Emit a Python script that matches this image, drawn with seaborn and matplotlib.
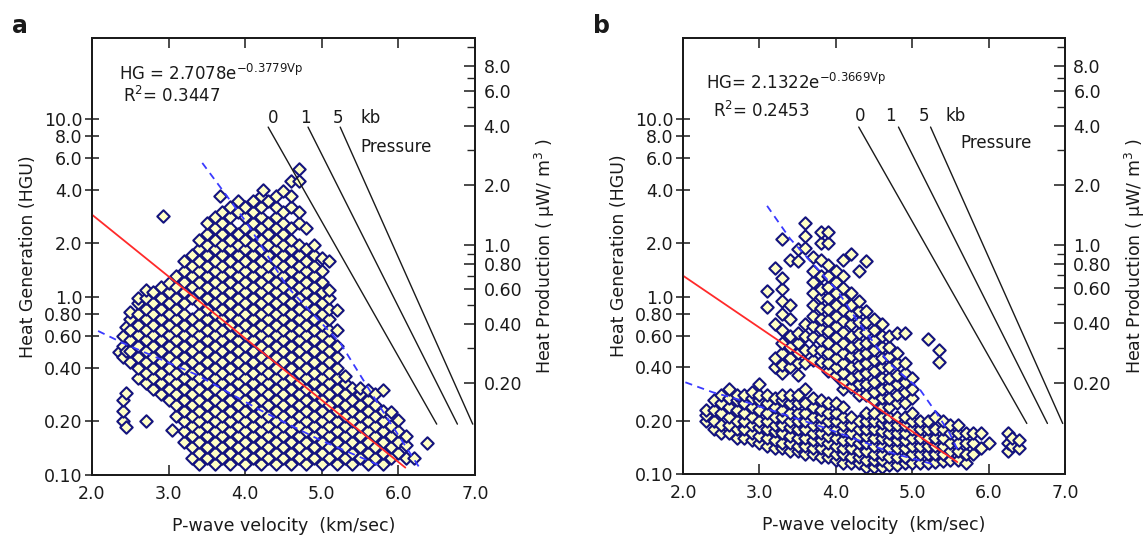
import pandas as pd
import numpy as np
import matplotlib
matplotlib.use("Agg")
import matplotlib.pyplot as plt
import seaborn as sns
from matplotlib.ticker import FixedLocator, NullLocator, NullFormatter

# ---- panel a : samples, grouped by P-wave velocity column ----
vp_a = [2.35, 2.40, 2.45, 2.50, 2.60, 2.70, 2.80, 2.90, 2.93, 3.00, 3.05, 3.10, 3.20, 3.30,
        3.40, 3.50, 3.60, 3.67, 3.70, 3.80, 3.90, 4.00, 4.10, 4.20, 4.23, 4.30, 4.40, 4.50,
        4.60, 4.70, 4.80, 4.90, 5.00, 5.10, 5.20, 5.30, 5.40, 5.50, 5.60, 5.70, 5.80, 5.90,
        6.00, 6.10, 6.20, 6.37]
hg_a = [
    [0.49],
    [0.2, 0.23, 0.265, 0.46, 0.53, 0.6],
    [0.185, 0.29, 0.5, 0.68],
    [0.43, 0.495, 0.57, 0.655, 0.75, 0.82],
    [0.35, 0.4, 0.46, 0.53, 0.61, 0.7, 0.8, 0.92, 0.99],
    [0.2, 0.327, 0.375, 0.43, 0.495, 0.57, 0.655, 0.75, 0.86, 0.99, 1.09],
    [0.305, 0.35, 0.4, 0.46, 0.53, 0.61, 0.7, 0.8, 0.92, 1.06],
    [0.285, 0.327, 0.375, 0.43, 0.495, 0.57, 0.655, 0.75, 0.86, 0.99, 1.14],
    [2.85],
    [0.265, 0.305, 0.35, 0.4, 0.46, 0.53, 0.61, 0.7, 0.8, 0.92, 1.06, 1.2],
    [0.18],
    [0.215, 0.247, 0.285, 0.327, 0.375, 0.43, 0.495, 0.57, 0.655, 0.75, 0.86, 0.99, 1.14, 1.31],
    [0.153, 0.176, 0.2, 0.23, 0.265, 0.305, 0.35, 0.4, 0.46, 0.53, 0.61, 0.7, 0.8, 0.92, 1.06,
     1.22, 1.4, 1.6],
    [0.124, 0.143, 0.165, 0.188, 0.215, 0.247, 0.285, 0.327, 0.375, 0.43, 0.495, 0.57, 0.655,
     0.75, 0.99, 1.14, 1.31, 1.5, 1.72],
    [0.115, 0.133, 0.153, 0.176, 0.2, 0.23, 0.265, 0.305, 0.35, 0.4, 0.46, 0.53, 0.61, 0.7, 0.8,
     0.92, 1.06, 1.22, 1.4, 1.6, 1.85, 2.1],
    [0.124, 0.143, 0.165, 0.188, 0.215, 0.247, 0.285, 0.327, 0.375, 0.43, 0.495, 0.57, 0.655,
     0.75, 0.86, 0.99, 1.14, 1.31, 1.5, 1.72, 1.97, 2.27, 2.6],
    [0.115, 0.133, 0.153, 0.176, 0.2, 0.23, 0.265, 0.305, 0.35, 0.4, 0.46, 0.53, 0.61, 0.7, 0.8,
     0.92, 1.06, 1.22, 1.4, 1.6, 1.85, 2.1, 2.45, 2.8],
    [3.7],
    [0.124, 0.143, 0.165, 0.188, 0.215, 0.247, 0.285, 0.327, 0.375, 0.43, 0.495, 0.57, 0.655,
     0.75, 0.86, 0.99, 1.14, 1.31, 1.5, 1.72, 1.97, 2.27, 2.6, 3.0],
    [0.115, 0.133, 0.153, 0.176, 0.2, 0.23, 0.265, 0.305, 0.35, 0.4, 0.46, 0.53, 0.61, 0.7, 0.8,
     0.92, 1.06, 1.22, 1.4, 1.6, 1.85, 2.1, 2.45, 2.8, 3.2],
    [0.124, 0.143, 0.165, 0.188, 0.215, 0.247, 0.285, 0.327, 0.375, 0.43, 0.495, 0.57, 0.655,
     0.75, 0.86, 0.99, 1.14, 1.31, 1.5, 1.72, 1.97, 2.27, 3.0, 3.45],
    [0.115, 0.133, 0.153, 0.176, 0.2, 0.23, 0.265, 0.305, 0.35, 0.4, 0.46, 0.53, 0.61, 0.7, 0.8,
     0.92, 1.06, 1.22, 1.4, 1.6, 1.85, 2.1, 2.45, 2.8, 3.2],
    [0.124, 0.143, 0.165, 0.188, 0.215, 0.247, 0.285, 0.327, 0.375, 0.43, 0.495, 0.57, 0.655,
     0.75, 0.86, 0.99, 1.14, 1.31, 1.5, 1.72, 1.97, 2.27, 2.6, 3.0, 3.45],
    [0.115, 0.133, 0.153, 0.176, 0.2, 0.23, 0.265, 0.305, 0.35, 0.4, 0.46, 0.53, 0.61, 0.7, 0.8,
     0.92, 1.06, 1.22, 1.4, 1.6, 1.85, 2.1, 2.45, 2.8, 3.2, 3.7],
    [4.0],
    [0.124, 0.143, 0.165, 0.188, 0.215, 0.247, 0.285, 0.327, 0.375, 0.43, 0.495, 0.57, 0.655,
     0.75, 0.86, 0.99, 1.14, 1.31, 1.5, 1.72, 1.97, 2.27, 2.6, 3.45],
    [0.115, 0.133, 0.153, 0.176, 0.2, 0.23, 0.265, 0.305, 0.35, 0.4, 0.46, 0.53, 0.61, 0.7, 0.8,
     0.92, 1.06, 1.22, 1.4, 1.6, 1.85, 2.1, 2.45, 2.8, 3.2, 3.7],
    [0.124, 0.143, 0.165, 0.188, 0.215, 0.247, 0.285, 0.327, 0.375, 0.43, 0.495, 0.57, 0.655,
     0.75, 0.86, 0.99, 1.14, 1.31, 1.5, 1.72, 1.97, 2.27, 2.6, 3.0, 3.95],
    [0.115, 0.133, 0.153, 0.176, 0.2, 0.23, 0.265, 0.305, 0.35, 0.4, 0.46, 0.53, 0.61, 0.7, 0.8,
     0.92, 1.06, 1.22, 1.4, 1.6, 1.85, 2.1, 2.45, 3.2, 3.7, 4.5],
    [0.124, 0.143, 0.165, 0.188, 0.215, 0.247, 0.285, 0.327, 0.375, 0.43, 0.495, 0.57, 0.655,
     0.75, 0.86, 0.99, 1.14, 1.31, 1.5, 1.72, 1.97, 2.6, 3.0, 4.5, 5.2],
    [0.115, 0.133, 0.153, 0.176, 0.2, 0.23, 0.265, 0.305, 0.35, 0.4, 0.46, 0.53, 0.61, 0.7, 0.8,
     0.92, 1.06, 1.22, 1.4, 1.6, 1.85, 2.45],
    [0.124, 0.143, 0.165, 0.188, 0.215, 0.247, 0.285, 0.327, 0.375, 0.43, 0.495, 0.57, 0.655,
     0.75, 0.86, 0.99, 1.14, 1.31, 1.5, 1.72, 1.97],
    [0.115, 0.133, 0.153, 0.176, 0.2, 0.23, 0.265, 0.305, 0.35, 0.4, 0.46, 0.53, 0.61, 0.7, 0.8,
     0.92, 1.06, 1.22, 1.4, 1.65],
    [0.124, 0.143, 0.165, 0.188, 0.215, 0.247, 0.285, 0.327, 0.375, 0.43, 0.495, 0.57, 0.655,
     0.75, 0.86, 0.99, 1.09, 1.6],
    [0.115, 0.133, 0.153, 0.176, 0.2, 0.23, 0.265, 0.305, 0.35, 0.4, 0.46, 0.53, 0.65, 0.84],
    [0.124, 0.143, 0.165, 0.188, 0.215, 0.247, 0.285, 0.327, 0.36],
    [0.115, 0.133, 0.153, 0.176, 0.2, 0.23, 0.265, 0.31],
    [0.124, 0.143, 0.165, 0.188, 0.215, 0.247, 0.285, 0.31],
    [0.115, 0.133, 0.153, 0.176, 0.2, 0.23, 0.265, 0.3],
    [0.124, 0.143, 0.165, 0.188, 0.215, 0.247, 0.285],
    [0.115, 0.133, 0.153, 0.176, 0.2, 0.23, 0.3],
    [0.124, 0.143, 0.165, 0.188, 0.226],
    [0.133, 0.153, 0.176, 0.204],
    [0.124, 0.148, 0.165],
    [0.125],
    [0.151],
]

# ---- panel b ----
vp_b = [2.30, 2.40, 2.50, 2.60, 2.70, 2.80, 2.90, 3.00, 3.10, 3.20, 3.30, 3.40, 3.50, 3.60,
        3.70, 3.80, 3.90, 4.00, 4.10, 4.20, 4.30, 4.40, 4.50, 4.60, 4.70, 4.80, 4.90, 5.00,
        5.10, 5.20, 5.30, 5.35, 5.40, 5.50, 5.60, 5.70, 5.80, 5.90, 6.00, 6.25, 6.30, 6.40]
hg_b = [
    [0.2, 0.215, 0.23],
    [0.18, 0.2, 0.23, 0.26],
    [0.17, 0.19, 0.22, 0.25, 0.28],
    [0.17, 0.19, 0.21, 0.24, 0.27, 0.3],
    [0.16, 0.18, 0.2, 0.23, 0.26, 0.28],
    [0.16, 0.18, 0.2, 0.22, 0.25, 0.28],
    [0.155, 0.17, 0.19, 0.21, 0.24, 0.27, 0.29],
    [0.15, 0.165, 0.185, 0.2, 0.23, 0.26, 0.28, 0.32],
    [0.145, 0.16, 0.18, 0.2, 0.22, 0.25, 0.28, 0.87, 1.08],
    [0.14, 0.155, 0.175, 0.19, 0.21, 0.24, 0.27, 0.4, 0.45, 0.7, 1.45],
    [0.14, 0.15, 0.17, 0.19, 0.21, 0.23, 0.26, 0.28, 0.37, 0.41, 0.48, 0.55, 0.65, 0.8, 0.95,
     1.1, 1.28, 2.1],
    [0.135, 0.15, 0.165, 0.185, 0.2, 0.22, 0.25, 0.28, 0.4, 0.45, 0.52, 0.6, 0.75, 0.9, 1.6],
    [0.135, 0.145, 0.16, 0.18, 0.2, 0.22, 0.25, 0.28, 0.36, 0.42, 0.48, 0.55, 0.62, 1.59, 1.85],
    [0.13, 0.145, 0.16, 0.18, 0.2, 0.22, 0.25, 0.3, 0.42, 0.5, 0.6, 0.7, 1.88, 2.2, 2.6],
    [0.13, 0.14, 0.155, 0.17, 0.19, 0.21, 0.24, 0.27, 0.44, 0.5, 0.59, 0.68, 0.78, 0.9, 1.05,
     1.2, 1.4, 1.66],
    [0.125, 0.14, 0.155, 0.17, 0.19, 0.21, 0.23, 0.26, 0.43, 0.5, 0.57, 0.66, 0.75, 0.86, 0.99,
     1.1, 1.3, 1.6, 2.0, 2.3],
    [0.125, 0.135, 0.15, 0.165, 0.18, 0.2, 0.22, 0.25, 0.38, 0.42, 0.48, 0.55, 0.64, 0.74, 0.85,
     0.98, 1.13, 1.3, 1.5, 2.0, 2.3],
    [0.12, 0.13, 0.145, 0.16, 0.18, 0.2, 0.22, 0.25, 0.36, 0.4, 0.45, 0.51, 0.59, 0.68, 0.78,
     0.9, 1.05, 1.2, 1.4],
    [0.115, 0.13, 0.14, 0.155, 0.175, 0.19, 0.21, 0.24, 0.3, 0.33, 0.37, 0.42, 0.48, 0.55, 0.63,
     0.73, 0.84, 0.97, 1.12, 1.3, 1.6],
    [0.115, 0.125, 0.14, 0.155, 0.17, 0.19, 0.21, 0.31, 0.35, 0.4, 0.46, 0.52, 0.6, 0.7, 0.8,
     0.9, 1.05, 1.74],
    [0.115, 0.125, 0.135, 0.15, 0.165, 0.18, 0.2, 0.28, 0.32, 0.36, 0.41, 0.47, 0.54, 0.62,
     0.72, 0.83, 0.95, 1.4],
    [0.11, 0.12, 0.135, 0.15, 0.165, 0.18, 0.2, 0.22, 0.28, 0.32, 0.37, 0.42, 0.48, 0.55, 0.63,
     0.72, 0.83, 1.59],
    [0.11, 0.12, 0.13, 0.145, 0.16, 0.18, 0.2, 0.22, 0.26, 0.29, 0.33, 0.38, 0.44, 0.5, 0.57,
     0.65, 0.75],
    [0.11, 0.12, 0.13, 0.145, 0.16, 0.175, 0.195, 0.21, 0.24, 0.27, 0.3, 0.35, 0.4, 0.45, 0.52,
     0.6, 0.7],
    [0.112, 0.125, 0.14, 0.155, 0.17, 0.19, 0.21, 0.24, 0.27, 0.31, 0.35, 0.4, 0.46, 0.52, 0.6],
    [0.112, 0.125, 0.14, 0.155, 0.17, 0.19, 0.21, 0.25, 0.28, 0.32, 0.36, 0.42, 0.48, 0.62],
    [0.115, 0.125, 0.14, 0.155, 0.17, 0.19, 0.21, 0.25, 0.29, 0.33, 0.37, 0.42, 0.62],
    [0.115, 0.13, 0.145, 0.16, 0.18, 0.2, 0.22, 0.27, 0.3, 0.35],
    [0.115, 0.13, 0.145, 0.16, 0.18, 0.2],
    [0.115, 0.13, 0.145, 0.16, 0.18, 0.2, 0.58],
    [0.117, 0.13, 0.145, 0.16, 0.18, 0.21],
    [0.43, 0.5],
    [0.118, 0.13, 0.145, 0.16, 0.18, 0.2],
    [0.12, 0.135, 0.15, 0.17, 0.19],
    [0.12, 0.135, 0.15, 0.17, 0.19],
    [0.115, 0.13, 0.15, 0.17],
    [0.13, 0.15, 0.17],
    [0.14, 0.17],
    [0.15],
    [0.135, 0.15, 0.17],
    [0.145, 0.16],
    [0.14, 0.155],
]

# regression line (red) and dashed bounds (blue)
fit_vp_a = [2.0, 6.09]
fit_hg_a = [2.9, 0.11]
up_vp_a = [3.44, 4.02, 4.55, 5.24, 5.76, 6.28]
up_hg_a = [5.66, 2.61, 1.14, 0.552, 0.241, 0.109]
lo_vp_a = [2.08, 2.40, 3.37, 4.19, 4.98, 5.80]
lo_hg_a = [0.644, 0.552, 0.365, 0.232, 0.157, 0.111]

fit_vp_b = [2.0, 5.59]
fit_hg_b = [1.31, 0.117]
up_vp_b = [3.10, 3.40, 3.64, 4.02, 4.28, 4.70, 5.10, 5.32, 5.49, 5.62]
up_hg_b = [3.24, 2.12, 1.63, 1.08, 0.733, 0.42, 0.30, 0.22, 0.17, 0.13]
lo_vp_b = [2.03, 2.39, 2.68, 3.83, 4.41, 4.75, 5.30]
lo_hg_b = [0.329, 0.289, 0.267, 0.184, 0.149, 0.131, 0.113]

# pressure lines 0, 1, 5 kb
p_names = ["0", "1", "5"]
p_vp_start = [4.30, 4.82, 5.24]
p_vp_end = [6.50, 6.77, 6.97]
p_hg_start = 9.0
p_hg_end = 0.193

# axis ticks
x_ticks = [2.0, 3.0, 4.0, 5.0, 6.0, 7.0]
hg_ticks = [0.1, 0.2, 0.4, 0.6, 0.8, 1.0, 2.0, 4.0, 6.0, 8.0, 10.0]
hg_labels = ["0.10", "0.20", "0.40", "0.60", "0.80", "1.0", "2.0", "4.0", "6.0", "8.0", "10.0"]
hp_ticks = [0.2, 0.4, 0.6, 0.8, 1.0, 2.0, 4.0, 6.0, 8.0]
hp_labels = ["0.20", "0.40", "0.60", "0.80", "1.0", "2.0", "4.0", "6.0", "8.0"]
hp_minor = [0.3, 0.5, 0.7, 0.9, 3.0, 5.0, 7.0, 10.0]

sns.set_style("ticks")
plt.rcParams["font.family"] = ["DejaVu Sans"]
plt.rcParams["mathtext.default"] = "regular"

FACE = "#ffffc6"
EDGE = "#14147e"
INK = "#1a1a1a"


def make_frame(vps, hgs):
    rows = [(v, h) for v, col in zip(vps, hgs) for h in col]
    return pd.DataFrame(rows, columns=["vp", "hg"])


def draw_panel(ax, df, fit, up, lo, eq, r2, eq_pos, r2_pos, lab_vp, lab_hg, kb_vp, pr_vp, pr_hg):
    sns.scatterplot(data=df, x="vp", y="hg", marker="D", s=40, color=FACE,
                    edgecolor=EDGE, linewidth=1.5, legend=False, ax=ax, zorder=2)
    ax.plot(fit[0], fit[1], color="#ff2a2a", lw=1.3, zorder=3)
    ax.plot(up[0], up[1], color="#3a3aff", lw=1.3, ls=(0, (4, 3)), zorder=3)
    ax.plot(lo[0], lo[1], color="#3a3aff", lw=1.3, ls=(0, (4, 3)), zorder=3)
    for i in range(3):
        ax.plot([p_vp_start[i], p_vp_end[i]], [p_hg_start, p_hg_end], color=INK, lw=1.0)
        ax.text(lab_vp[i], lab_hg, p_names[i], ha="center", va="baseline", fontsize=12, color=INK)
    ax.text(kb_vp, lab_hg, "kb", ha="left", va="baseline", fontsize=12, color=INK)
    ax.text(pr_vp, pr_hg, "Pressure", ha="left", va="baseline", fontsize=12, color=INK)
    ax.text(eq_pos[0], eq_pos[1], eq, transform=ax.transAxes, fontsize=12, color=INK, va="baseline")
    ax.text(r2_pos[0], r2_pos[1], r2, transform=ax.transAxes, fontsize=12, color=INK, va="baseline")

    ax.set_xlim(2.0, 7.0)
    ax.set_yscale("log")
    ax.set_ylim(0.1, 28.5)
    ax.set_xticks(x_ticks)
    ax.set_xticklabels([f"{t:.1f}" for t in x_ticks])
    ax.yaxis.set_major_locator(FixedLocator(hg_ticks))
    ax.yaxis.set_minor_locator(NullLocator())
    ax.set_yticklabels(hg_labels)
    ax.tick_params(axis="y", direction="inout", length=10, width=1.1, labelsize=12.5, pad=2,
                   colors=INK)
    ax.tick_params(axis="x", direction="in", length=7, width=1.1, top=True, labelsize=12.5,
                   pad=7, colors=INK)
    ax.set_xlabel("P-wave velocity  (km/sec)", fontsize=12.5, labelpad=10, color=INK)
    ax.set_ylabel("Heat Generation (HGU)", fontsize=12.5, labelpad=5, color=INK)
    for sp in ax.spines.values():
        sp.set_linewidth(1.3)
        sp.set_color(INK)

    ax2 = ax.twinx()
    ax2.set_yscale("log")
    ax2.set_ylim(0.0689, 11.1)
    ax2.yaxis.set_major_locator(FixedLocator(hp_ticks))
    ax2.yaxis.set_minor_locator(FixedLocator(hp_minor))
    ax2.yaxis.set_minor_formatter(NullFormatter())
    ax2.set_yticklabels(hp_labels)
    ax2.tick_params(axis="y", which="major", direction="in", length=8, width=1.1,
                    labelsize=12.5, pad=6, colors=INK)
    ax2.tick_params(axis="y", which="minor", direction="in", length=6, width=1.0)
    ax2.set_ylabel("Heat Production ( \u00b5W/ m$^{3}$ )", fontsize=12.5, labelpad=8, color=INK)
    for sp in ax2.spines.values():
        sp.set_linewidth(1.3)
        sp.set_color(INK)


fig = plt.figure(figsize=(11.48, 5.37), dpi=100)
ax_a = fig.add_axes([0.0801, 0.1155, 0.3337, 0.8138])
ax_b = fig.add_axes([0.5950, 0.1170, 0.3327, 0.8120])

df_a = make_frame(vp_a, hg_a)
df_b = make_frame(vp_b, hg_b)

draw_panel(ax_a, df_a, (fit_vp_a, fit_hg_a), (up_vp_a, up_hg_a), (lo_vp_a, lo_hg_a),
           "HG = 2.7078e$^{-0.3779Vp}$", "R$^{2}$= 0.3447", (0.070, 0.904), (0.080, 0.854),
           [4.36, 4.79, 5.21], 9.5, 5.50, 5.50, 6.5)
draw_panel(ax_b, df_b, (fit_vp_b, fit_hg_b), (up_vp_b, up_hg_b), (lo_vp_b, lo_hg_b),
           "HG= 2.1322e$^{-0.3669Vp}$", "R$^{2}$= 0.2453", (0.060, 0.883), (0.079, 0.819),
           [4.32, 4.72, 5.15], 9.75, 5.44, 5.63, 6.87)

fig.text(0.0105, 0.9385, "a", fontsize=17, fontweight="bold", color=INK)
fig.text(0.5166, 0.9385, "b", fontsize=17, fontweight="bold", color=INK)

fig.savefig("out.png", dpi=100)
